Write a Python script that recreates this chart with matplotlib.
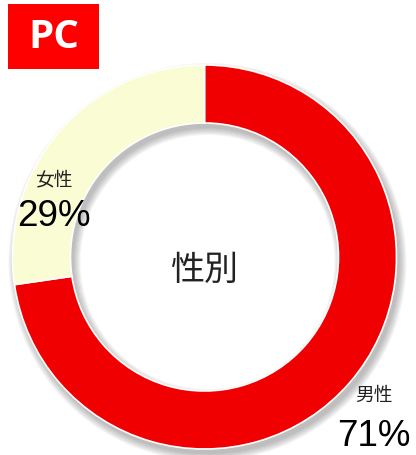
import numpy as np
import matplotlib
matplotlib.use("Agg")
import matplotlib.pyplot as plt
from matplotlib.patches import Wedge, Rectangle

plt.rcParams['font.family'] = ['Noto Sans CJK JP', 'DejaVu Sans']

# data (slice shares as drawn in the picture, labels as printed)
labels = ["男性", "女性"]
shares = [72.7, 27.3]
pct_labels = ["71%", "29%"]
colors = ["#F00000", "#FAFDD3"]
center_label = "性別"
badge = "PC"

W, H = 416, 456
fig = plt.figure(figsize=(W / 100, H / 100), dpi=100)
ax = fig.add_axes([0, 0, 1, 1])

cx, cy = 204.5, H - 258
r_out, ring = 192, 58

# soft shadow under the ring
for i in range(8):
    grow = 1 + i * 1.0
    ax.add_patch(Wedge((cx + 3, cy - 5), r_out + grow - 1, 0, 360,
                       width=ring + 2 * grow - 2, facecolor="#555555",
                       edgecolor="none", alpha=0.055, zorder=1))

ax.pie(shares, colors=colors, startangle=90, counterclock=False,
       center=(cx, cy), radius=r_out, frame=True,
       wedgeprops=dict(width=ring, edgecolor="white", linewidth=1.2, zorder=2))
ax.set_xlim(0, W)
ax.set_ylim(0, H)
ax.set_aspect("equal")
ax.axis("off")

# center text
ax.text(cx, H - 270, center_label, ha="center", va="center", fontsize=24.5,
        color="#222222", zorder=5)

# slice labels
pos = {"男性": (374, 395, 437), "女性": (54, 180, 217)}
for lab, pct in zip(labels, pct_labels):
    x, y1, y2 = pos[lab]
    ax.text(x, H - y1, lab, ha="center", va="center", fontsize=13.5,
            color="#222222", zorder=5)
    ax.text(x, H - y2, pct, ha="center", va="center", fontsize=26.5,
            family=["Liberation Sans", "DejaVu Sans"], color="black", zorder=5)

# PC badge
ax.add_patch(Rectangle((8, H - 70), 91, 65, facecolor="#FF0000",
                       edgecolor="none", zorder=5))
ax.text(53.5, H - 37, badge, ha="center", va="center", fontsize=29,
        fontweight="bold", color="white", family=["Open Sans", "DejaVu Sans"],
        zorder=6)

fig.savefig("out.png", dpi=100)
